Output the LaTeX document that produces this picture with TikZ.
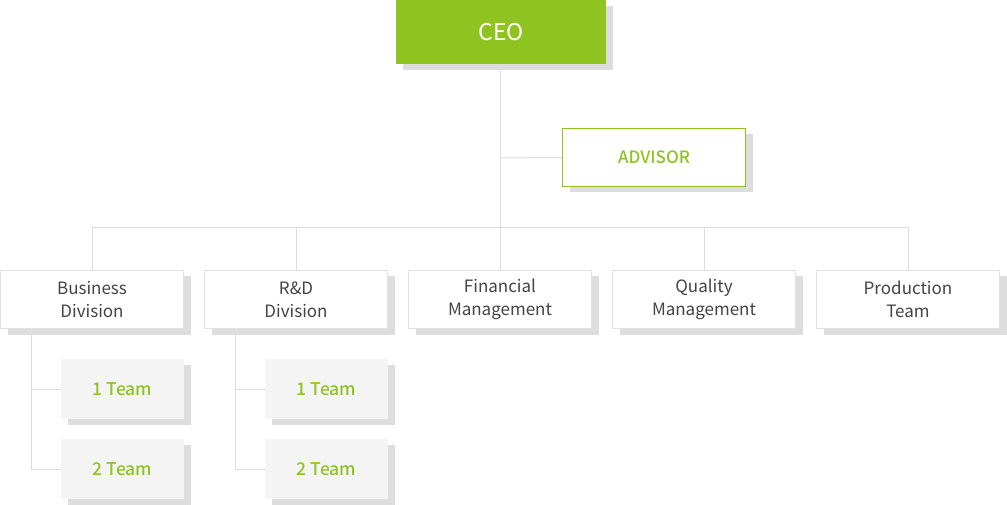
\documentclass[tikz,border=0pt]{standalone}
\usepackage{fontspec}
\setmainfont{Noto Sans CJK KR}
\newfontfamily\medfont{Noto Sans CJK KR Medium}
\usetikzlibrary{shadows}
\definecolor{leaf}{HTML}{8FC31F}
\definecolor{shadowgray}{HTML}{DDDDDD}
\definecolor{linegray}{HTML}{DDDDDD}
\definecolor{boxline}{HTML}{E2E2E2}
\definecolor{teamfill}{HTML}{F4F4F4}
\definecolor{textgray}{HTML}{444444}
\tikzset{
  sh/.style={drop shadow={shadow xshift=7pt,shadow yshift=-6pt,shadow scale=1,opacity=1,fill=shadowgray}},
  ceobox/.style={rectangle,sh,fill=leaf,text=white,minimum width=210pt,minimum height=64pt,inner sep=0pt,font=\fontsize{23}{26}\selectfont},
  advbox/.style={rectangle,sh,fill=white,draw=leaf,line width=1pt,text=leaf,minimum width=183pt,minimum height=58pt,inner sep=0pt,font=\medfont\fontsize{17}{20}\selectfont},
  divbox/.style={rectangle,sh,fill=white,draw=boxline,line width=1pt,text=textgray,minimum width=183pt,minimum height=58pt,inner sep=0pt,align=center,font=\fontsize{17}{23}\selectfont},
  teambox/.style={rectangle,sh,fill=teamfill,text=leaf,minimum width=123pt,minimum height=60pt,inner sep=0pt,font=\medfont\fontsize{17.5}{20}\selectfont},
  conn/.style={draw=linegray,line width=1pt}
}
\begin{document}
\begin{tikzpicture}[x=1pt,y=-1pt]
\useasboundingbox[fill=white] (0,0) rectangle (1007,505);
\coordinate (bar) at (500,228);
\coordinate (advj) at (500,158);
\coordinate (bt) at (31,329);
\coordinate (rt) at (235,329);
\path[conn] (500,64) -- (bar);
\node[ceobox] (ceo) at (501,32) {CEO};
\node[advbox] (adv) at (654,157.5) {ADVISOR};
\node[divbox] (bus) at (92,299.5) {Business\\Division};
\node[divbox] (rd) at (296,299.5) {R\&D\\Division};
\node[divbox] (fin) at (500,299.5) {Financial\\Management};
\node[divbox] (qual) at (704,299.5) {Quality\\Management};
\node[divbox] (prod) at (908,299.5) {Production\\Team};
\node[teambox] (b1) at (122.5,389) {1 Team};
\node[teambox] (b2) at (122.5,469) {2 Team};
\node[teambox] (r1) at (326.5,389) {1 Team};
\node[teambox] (r2) at (326.5,469) {2 Team};
\path[conn] (advj) -- (adv.west);
\path[conn] (bar) -| (bus.north);
\path[conn] (bar) -| (rd.north);
\path[conn] (bar) -- (fin.north);
\path[conn] (bar) -| (qual.north);
\path[conn] (bar) -| (prod.north);
\path[conn] (bus.south -| bt) |- (b1.west);
\path[conn] (bus.south -| bt) |- (b2.west);
\path[conn] (rd.south -| rt) |- (r1.west);
\path[conn] (rd.south -| rt) |- (r2.west);
\end{tikzpicture}
\end{document}
